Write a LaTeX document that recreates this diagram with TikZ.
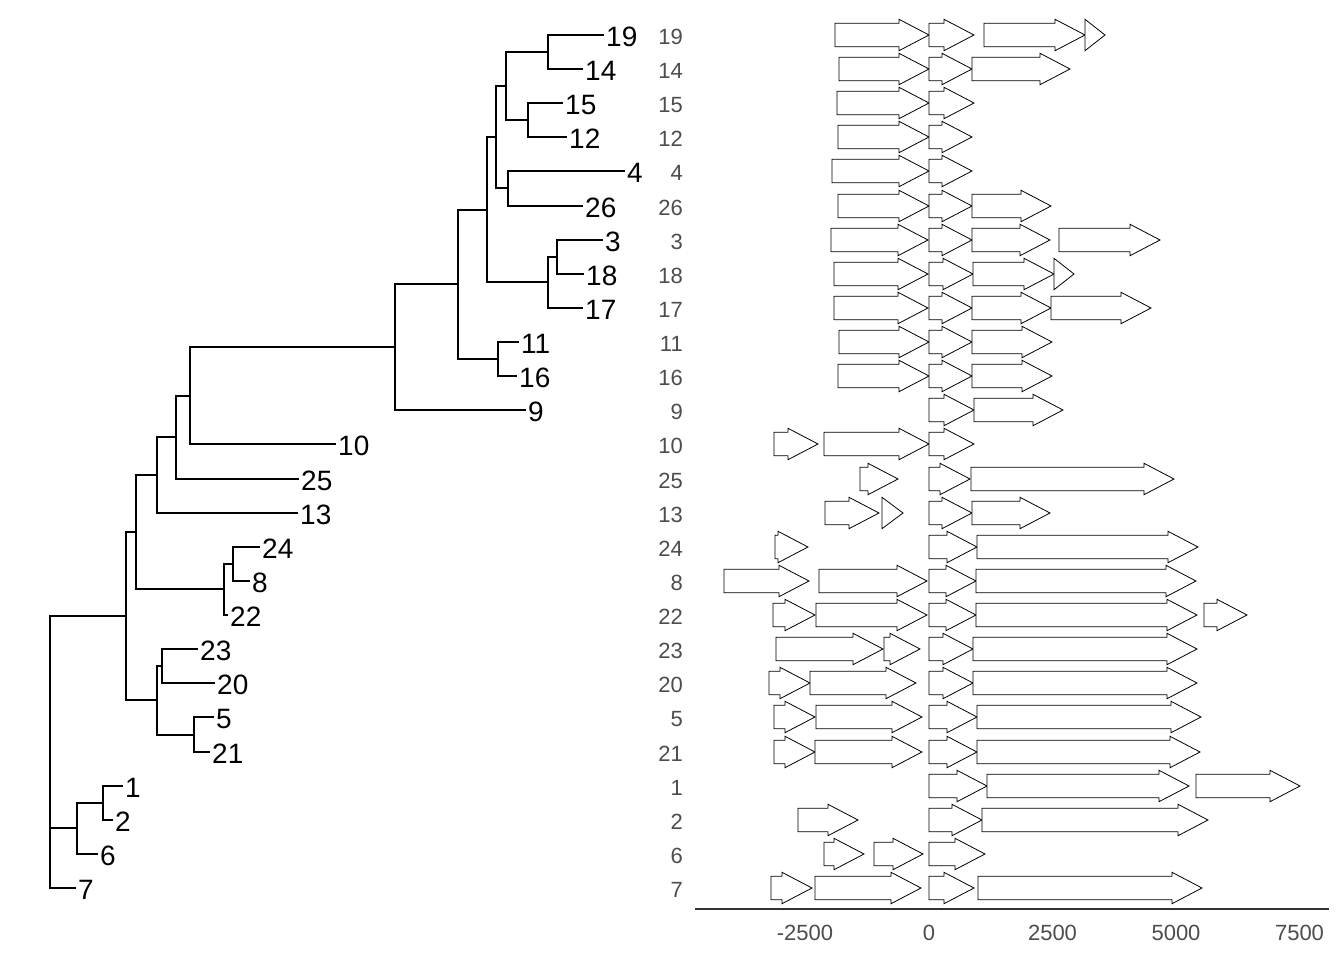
\documentclass[tikz,border=0pt]{standalone}
\usepackage{fontspec}
\setmainfont{Liberation Sans}
\definecolor{axisgray}{HTML}{4D4D4D}
\definecolor{axisline}{HTML}{333333}
% gene arrow: start x, end x, row y; genes shorter than the head are drawn as a bare triangle
\newcommand\genearrow[3]{%
  \pgfmathsetmacro\glen{#2-#1}%
  \ifdim\glen pt<30pt
    \draw[genestyle] (#1,{#3-15.7}) -- (#2,#3) -- (#1,{#3+15.7}) -- cycle;
  \else
    \draw[genestyle] (#1,{#3-11.7}) -- ({#2-30},{#3-11.7}) -- ({#2-30},{#3-15.7})
      -- (#2,#3) -- ({#2-30},{#3+15.7}) -- ({#2-30},{#3+11.7}) -- (#1,{#3+11.7}) -- cycle;
  \fi}
\begin{document}
\begin{tikzpicture}[x=1pt,y=-1pt,
  branch/.style={line width=2pt},
  genestyle/.style={draw=black,fill=white,line width=0.8pt,line join=miter},
  tiplabel/.style={anchor=west,inner sep=0pt,xshift=2pt,yshift=-2pt,
    font=\fontsize{28}{28}\selectfont},
  rowlabel/.style={anchor=east,inner sep=0pt,yshift=-2pt,text=axisgray,
    font=\fontsize{22}{22}\selectfont},
  ticklabel/.style={anchor=center,inner sep=0pt,text=axisgray,
    font=\fontsize{22}{22}\selectfont}]
\fill[white] (0,0) rectangle (1344,960);
\useasboundingbox (0,0) rectangle (1344,960);

% ---- tip ends of the tree ----
\coordinate (c19) at (604,35);
\coordinate (c14) at (583,69);
\coordinate (c15) at (563,103);
\coordinate (c12) at (567,137);
\coordinate (c4)  at (625,171);
\coordinate (c26) at (583,206);
\coordinate (c3)  at (603,240);
\coordinate (c18) at (584,274);
\coordinate (c17) at (583,308);
\coordinate (c11) at (519,342);
\coordinate (c16) at (517,376);
\coordinate (c9)  at (526,410);
\coordinate (c10) at (336,444);
\coordinate (c25) at (299,479);
\coordinate (c13) at (298,513);
\coordinate (c24) at (260,547);
\coordinate (c8)  at (250,581);
\coordinate (c22) at (228,615);
\coordinate (c23) at (198,649);
\coordinate (c20) at (215,683);
\coordinate (c5)  at (214,717);
\coordinate (c21) at (210,752);
\coordinate (c1)  at (123,786);
\coordinate (c2)  at (113,820);
\coordinate (c6)  at (98,854);
\coordinate (c7)  at (76,888);

% ---- internal nodes ----
\coordinate (a1914) at (548,52);
\coordinate (a1512) at (528,120);
\coordinate (aA)    at (506,86);
\coordinate (a426)  at (508,188);
\coordinate (aB)    at (496,137);
\coordinate (a318)  at (557,257);
\coordinate (a31817) at (548,282);
\coordinate (aC)    at (487,210);
\coordinate (a1116) at (498,359);
\coordinate (aD)    at (458,284);
\coordinate (aE)    at (395,347);
\coordinate (aF)    at (190,396);
\coordinate (aG)    at (176,437);
\coordinate (aH)    at (157,475);
\coordinate (a248)  at (233,564);
\coordinate (a24822) at (224,589);
\coordinate (aI)    at (136,532);
\coordinate (a2320) at (162,666);
\coordinate (a521)  at (194,735);
\coordinate (aJ)    at (157,700);
\coordinate (aK)    at (126,616);
\coordinate (a12)   at (103,803);
\coordinate (a126)  at (77,828);
\coordinate (root)  at (50,752);

% ---- branches ----
\foreach \p/\c in {a1914/c19,a1914/c14,a1512/c15,a1512/c12,aA/a1914,aA/a1512,
  a426/c4,a426/c26,aB/aA,aB/a426,a318/c3,a318/c18,a31817/a318,a31817/c17,
  aC/aB,aC/a31817,a1116/c11,a1116/c16,aD/aC,aD/a1116,aE/aD,aE/c9,aF/aE,aF/c10,
  aG/aF,aG/c25,aH/aG,aH/c13,a248/c24,a248/c8,a24822/a248,a24822/c22,aI/aH,aI/a24822,
  a2320/c23,a2320/c20,a521/c5,a521/c21,aJ/a2320,aJ/a521,aK/aI,aK/aJ,
  a12/c1,a12/c2,a126/a12,a126/c6,root/aK,root/a126,root/c7}
  \draw[branch] (\p) |- (\c);

% ---- tip labels and row labels ----
\foreach \t/\yy in {19/35,14/69,15/103,12/137,4/171,26/206,3/240,
  18/274,17/308,11/342,16/376,9/410,10/444,25/479,13/513,24/547,
  8/581,22/615,23/649,20/683,5/717,21/752,1/786,2/820,6/854,7/888}{
  \node[tiplabel] (t\t) at (c\t) {\t};
  \node[rowlabel] (r\t) at (683,\yy) {\t};
}

% ---- gene arrows, one row per genome ----
\genearrow{835}{929}{35}\genearrow{929}{974}{35}\genearrow{984}{1085}{35}\genearrow{1085}{1105}{35}
\genearrow{839}{929}{69}\genearrow{929}{972}{69}\genearrow{972}{1070}{69}
\genearrow{837}{929}{103}\genearrow{929}{974}{103}
\genearrow{838}{929}{137}\genearrow{929}{972}{137}
\genearrow{832}{929}{171}\genearrow{929}{972}{171}
\genearrow{838}{929}{206}\genearrow{929}{972}{206}\genearrow{972}{1051}{206}
\genearrow{831}{928}{240}\genearrow{929}{972}{240}\genearrow{972}{1050}{240}\genearrow{1059}{1160}{240}
\genearrow{834}{928}{274}\genearrow{929}{973}{274}\genearrow{973}{1054}{274}\genearrow{1054}{1074}{274}
\genearrow{834}{928}{308}\genearrow{929}{972}{308}\genearrow{972}{1051}{308}\genearrow{1051}{1151}{308}
\genearrow{839}{929}{342}\genearrow{929}{972}{342}\genearrow{972}{1052}{342}
\genearrow{838}{929}{376}\genearrow{929}{972}{376}\genearrow{972}{1052}{376}
\genearrow{929}{974}{410}\genearrow{974}{1063}{410}
\genearrow{774}{818}{444}\genearrow{824}{929}{444}\genearrow{929}{974}{444}
\genearrow{860}{898}{479}\genearrow{929}{970}{479}\genearrow{971}{1174}{479}
\genearrow{825}{879}{513}\genearrow{882}{903}{513}\genearrow{929}{972}{513}\genearrow{972}{1050}{513}
\genearrow{775}{808}{547}\genearrow{929}{977}{547}\genearrow{977}{1198}{547}
\genearrow{724}{809}{581}\genearrow{819}{927}{581}\genearrow{929}{976}{581}\genearrow{976}{1196}{581}
\genearrow{773}{815}{615}\genearrow{816}{927}{615}\genearrow{929}{976}{615}\genearrow{976}{1197}{615}\genearrow{1204}{1247}{615}
\genearrow{776}{883}{649}\genearrow{884}{920}{649}\genearrow{929}{973}{649}\genearrow{973}{1197}{649}
\genearrow{769}{810}{683}\genearrow{810}{916}{683}\genearrow{929}{973}{683}\genearrow{973}{1197}{683}
\genearrow{774}{815}{717}\genearrow{816}{922}{717}\genearrow{929}{977}{717}\genearrow{977}{1201}{717}
\genearrow{774}{815}{752}\genearrow{815}{922}{752}\genearrow{929}{977}{752}\genearrow{977}{1200}{752}
\genearrow{929}{987}{786}\genearrow{987}{1189}{786}\genearrow{1196}{1300}{786}
\genearrow{798}{858}{820}\genearrow{929}{982}{820}\genearrow{982}{1208}{820}
\genearrow{824}{864}{854}\genearrow{874}{923}{854}\genearrow{929}{985}{854}
\genearrow{771}{812}{888}\genearrow{815}{921}{888}\genearrow{929}{974}{888}\genearrow{978}{1202}{888}

% ---- position axis ----
\coordinate (axl) at (695,909);
\coordinate (axr) at (1329,909);
\draw[axisline,line width=2pt] (axl) -- (axr);
\node[ticklabel] (xm2500) at (805,933) {-2500};
\node[ticklabel] (x0)     at (929,933) {0};
\node[ticklabel] (x2500)  at (1052.5,933) {2500};
\node[ticklabel] (x5000)  at (1176,933) {5000};
\node[ticklabel] (x7500)  at (1299.5,933) {7500};
\end{tikzpicture}
\end{document}
